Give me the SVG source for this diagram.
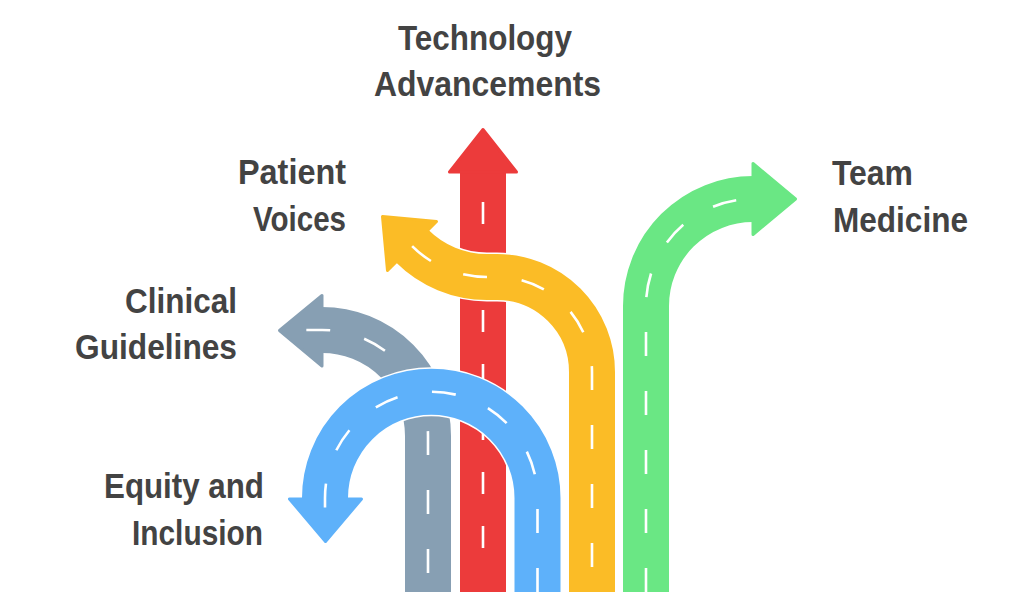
<svg xmlns="http://www.w3.org/2000/svg" width="1024" height="594" viewBox="0 0 1024 594">
  <style>
    .edge { fill: none; stroke: #ffffff; stroke-width: 49; stroke-linecap: butt; stroke-linejoin: round; }
    .road { fill: none; stroke-width: 46; stroke-linecap: butt; stroke-linejoin: round; }
    .dash { fill: none; stroke: #ffffff; stroke-width: 2.6; stroke-dasharray: 24 35; stroke-linecap: butt; }
    .head { stroke-width: 3; stroke-linejoin: round; }
    .label { font-family: "Liberation Sans", Arial, sans-serif; font-weight: bold; font-size: 35px; fill: #434343; }
    .gray { stroke: #879fb3; fill: #879fb3; }
    .red { stroke: #ec3b3b; fill: #ec3b3b; }
    .yellow { stroke: #fbbc26; fill: #fbbc26; }
    .green { stroke: #6ae784; fill: #6ae784; }
    .blue { stroke: #5eb1fa; fill: #5eb1fa; }
  </style>
  <rect width="1024" height="594" fill="#ffffff"/>

  <g id="clinical-guidelines">
    <path class="edge" d="M428 592 V436 A106 106 0 0 0 322 330 H320"/>
    <path class="road gray" style="fill:none" d="M428 592 V436 A106 106 0 0 0 322 330 H318"/>
    <polygon class="head gray" points="322,295.5 322,366 279.5,330.5"/>
    <path class="dash" style="stroke-dashoffset:40" d="M428 592 V436 A106 106 0 0 0 322 330 H305"/>
    <text class="label" x="125" y="313" textLength="112" lengthAdjust="spacingAndGlyphs">Clinical</text>
    <text class="label" x="75" y="359" textLength="162" lengthAdjust="spacingAndGlyphs">Guidelines</text>
  </g>

  <g id="technology-advancements">
    <path class="edge" d="M483 592 V172"/>
    <path class="road red" style="fill:none" d="M483 592 V170"/>
    <polygon class="head red" points="449.5,172 516.5,172 483,129.5"/>
    <path class="dash" style="stroke-dasharray:22 32" d="M483 548 V172"/>
    <text class="label" x="398" y="50" textLength="174" lengthAdjust="spacingAndGlyphs">Technology</text>
    <text class="label" x="374" y="96" textLength="227" lengthAdjust="spacingAndGlyphs">Advancements</text>
  </g>

  <g id="team-medicine">
    <path class="edge" d="M646 592 V306 A107 107 0 0 1 753 199"/>
    <path class="road green" style="fill:none" d="M646 592 V306 A107 107 0 0 1 753 199 H756"/>
    <polygon class="head green" points="753,163.5 753,234.5 795.5,199"/>
    <path class="dash" d="M646 592 V306 A107 107 0 0 1 753 199"/>
    <text class="label" x="832" y="185" textLength="81" lengthAdjust="spacingAndGlyphs">Team</text>
    <text class="label" x="833" y="232" textLength="135" lengthAdjust="spacingAndGlyphs">Medicine</text>
  </g>

  <g id="patient-voices">
    <path class="edge" d="M592 592 V372 A95 95 0 0 0 497 277 H487 A106 106 0 0 1 412.05 246.05"/>
    <path class="road yellow" style="fill:none" d="M592 592 V372 A95 95 0 0 0 497 277 H487 A106 106 0 0 1 412.05 246.05 L410 244"/>
    <polygon class="head yellow" points="436.5,221.5 387.5,270.5 382.5,216.5"/>
    <path class="dash" style="stroke-dashoffset:34" d="M592 592 V372 A95 95 0 0 0 497 277 H487 A106 106 0 0 1 412.05 246.05 L404 238"/>
    <text class="label" x="238" y="184" textLength="108" lengthAdjust="spacingAndGlyphs">Patient</text>
    <text class="label" x="253" y="231" textLength="93" lengthAdjust="spacingAndGlyphs">Voices</text>
  </g>

  <g id="equity-and-inclusion">
    <path class="edge" d="M537.5 592 V498 A106.25 106.25 0 0 0 431.25 391.75 A106.25 106.25 0 0 0 325 498"/>
    <path class="road blue" style="fill:none" d="M537.5 592 V498 A106.25 106.25 0 0 0 431.25 391.75 A106.25 106.25 0 0 0 325 498 V501"/>
    <polygon class="head blue" points="289.5,499 361.5,499 325.5,541.5"/>
    <path class="dash" d="M537.5 592 V498 A106.25 106.25 0 0 0 431.25 391.75 A106.25 106.25 0 0 0 325 498 V514"/>
    <text class="label" x="104" y="498" textLength="160" lengthAdjust="spacingAndGlyphs">Equity and</text>
    <text class="label" x="132" y="545" textLength="131" lengthAdjust="spacingAndGlyphs">Inclusion</text>
  </g>
</svg>
